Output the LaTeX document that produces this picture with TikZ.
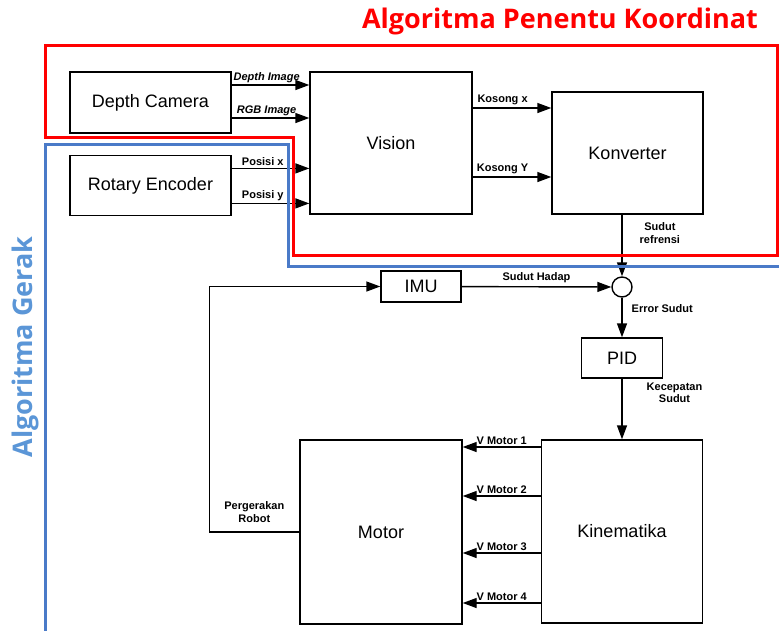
\documentclass[tikz,border=0pt]{standalone}
\usepackage{fontspec}
\setmainfont{Liberation Sans}
\newfontfamily\headfont{Open Sans}
\usetikzlibrary{arrows.meta,positioning}
\definecolor{coordRed}{RGB}{255,0,0}
\definecolor{gerakBlue}{RGB}{74,122,200}
\definecolor{gerakText}{RGB}{91,150,215}

\begin{document}
\begin{tikzpicture}[
  x=1pt, y=-1pt,
  font=\fontsize{18}{21}\selectfont,
  >={Triangle[length=14pt,width=10pt]},
  block/.style={draw, line width=1.4pt, inner sep=0pt, align=center},
  lbl/.style={font=\fontsize{11}{12.5}\selectfont\bfseries, inner sep=1pt,
    align=center},
  arrow/.style={->, line width=1.4pt},
  frame/.style={line width=3pt}
]
  \useasboundingbox (0,0) rectangle (779,630);

  \node[block, minimum width=161pt, minimum height=61pt] (cam) at (150.5,102.5) {Depth Camera};
  \node[block, minimum width=161pt, minimum height=60pt, below=21pt of cam] (enc) {Rotary Encoder};
  \node[block, minimum width=162pt, minimum height=142pt] (vis) at (391,143) {Vision};
  \node[block, minimum width=151pt, minimum height=122pt] (konv) at (627.5,153) {Konverter};

  \node[block, minimum width=80pt, minimum height=31pt] (imu) at (421,286.5) {IMU};
  \node[draw, circle, line width=1.4pt, minimum size=20pt, inner sep=0pt] (sum) at (622,287) {};
  \node[block, minimum width=81pt, minimum height=40pt] (pid) at (622,358) {PID};
  \node[block, minimum width=161pt, minimum height=183pt] (kin) at (622,531.5) {Kinematika};
  \node[block, minimum width=162pt, minimum height=184pt] (mot) at (381,532) {Motor};

  % sensor inputs
  \draw[arrow] ([yshift=17.5pt]cam.east) -- ([yshift=17.5pt]cam.east -| vis.west)
    node[lbl, pos=0.45, above=1pt] {\itshape Depth Image};
  \draw[arrow] ([yshift=-15.5pt]cam.east) -- ([yshift=-15.5pt]cam.east -| vis.west)
    node[lbl, pos=0.45, above=1pt] {\itshape RGB Image};
  \draw[arrow] ([yshift=17pt]enc.east) -- ([yshift=17pt]enc.east -| vis.west)
    node[lbl, pos=0.4, above=1pt] {Posisi x};
  \draw[arrow] ([yshift=-18pt]enc.east) -- ([yshift=-18pt]enc.east -| vis.west)
    node[lbl, pos=0.4, above=1pt] {Posisi y};

  \draw[arrow] ([yshift=35pt]vis.east) -- ([yshift=35pt]vis.east -| konv.west)
    node[lbl, pos=0.38, above=1pt] {Kosong x};
  \draw[arrow] ([yshift=-34pt]vis.east) -- ([yshift=-34pt]vis.east -| konv.west)
    node[lbl, pos=0.38, above=1pt] {Kosong Y};

  % angle loop
  \draw[arrow] (konv.south -| sum) -- (sum.north)
    node[lbl, pos=0.3, right=16pt] {Sudut\\refrensi};
  \draw[arrow] (imu) -- (sum)
    node[lbl, midway, above=2pt] {Sudut Hadap};
  \draw[arrow] (sum) -- (pid)
    node[lbl, pos=0.28, right=8pt] {Error Sudut};
  \draw[arrow] (pid) -- (kin)
    node[lbl, pos=0.23, right=23pt] {Kecepatan\\Sudut};

  \foreach \n/\dy in {1/84.5, 2/35.5, 3/-21.5, 4/-71.5}
    \draw[arrow] ([yshift=\dy pt]kin.west) -- ([yshift=\dy pt]kin.west -| mot.east)
      node[lbl, midway, above=1pt] {V Motor \n};

  \draw[arrow] (mot.west) -- ++(-90,0)
    node[lbl, midway, above=8pt] {Pergerakan\\Robot}
    |- (imu.west);

  % group frames
  \draw[frame, coordRed] (45,45) -- (777,45) -- (777,255) -- (293,255)
    -- (293,137) -- (45,137) -- cycle;
  \draw[frame, gerakBlue] (45,634) -- (45,144) -- (288,144) -- (288,266) -- (782,266);

  \node[font=\headfont\bfseries\fontsize{27}{30}\selectfont, text=coordRed,
    anchor=base, inner sep=0pt] (titleA) at (560,28) {Algoritma Penentu Koordinat};
  \node[font=\headfont\bfseries\fontsize{27}{30}\selectfont, text=gerakText,
    rotate=90, anchor=base, inner sep=0pt] (titleB) at (32,347) {Algoritma Gerak};
\end{tikzpicture}
\end{document}
